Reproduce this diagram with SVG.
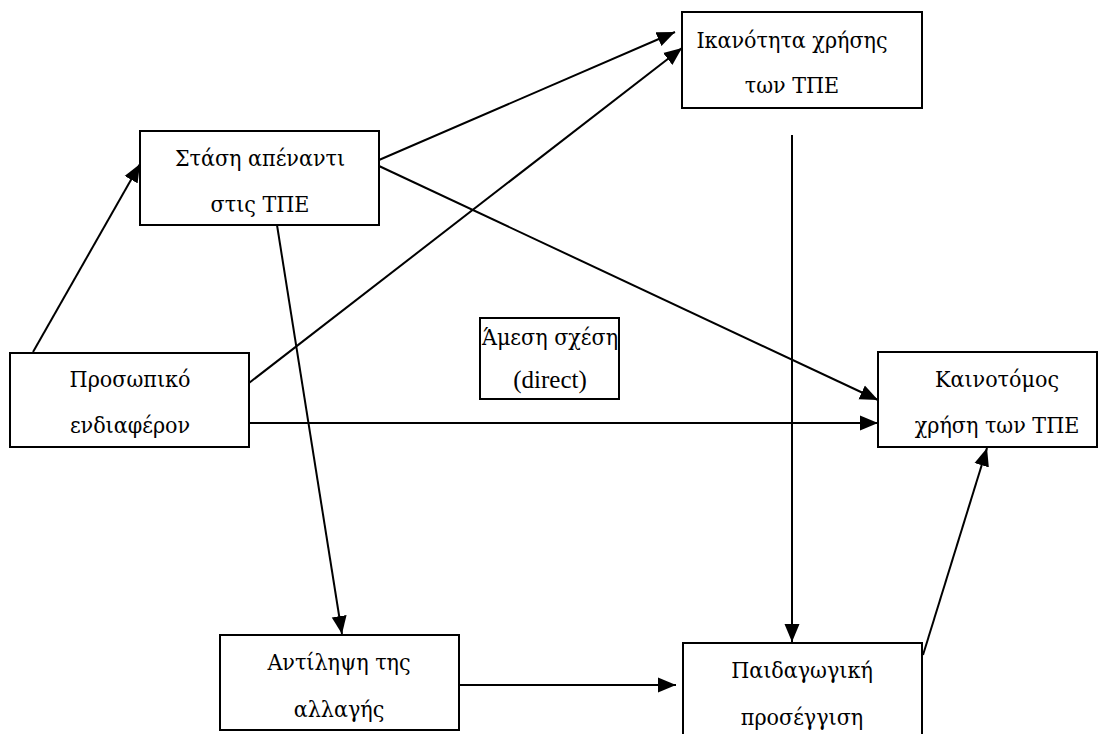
<svg xmlns="http://www.w3.org/2000/svg" width="1104" height="734" viewBox="0 0 1104 734">
<defs>
<style>
.box{fill:#fff;stroke:#000;stroke-width:2}
.t{font-family:'DejaVu Serif Condensed','DejaVu Serif',serif;font-stretch:condensed;font-size:23px;fill:#000;text-anchor:middle}
.lat{font-family:'Liberation Serif','Times New Roman',serif;font-stretch:normal;font-size:25px}
.c{stroke:#000;stroke-width:2;fill:none;marker-end:url(#ah)}
</style>
<marker id="ah" markerUnits="userSpaceOnUse" markerWidth="19" markerHeight="16" refX="18" refY="8" orient="auto">
<path d="M0,0.5 L18,8 L0,15.5 z" fill="#000"/>
</marker>
</defs>
<rect width="1104" height="734" fill="#fff"/>
<g id="connectors">
<line class="c" x1="33" y1="352" x2="140" y2="164"/>
<line class="c" x1="379" y1="160" x2="675" y2="32"/>
<line class="c" x1="249" y1="383" x2="682" y2="48"/>
<line class="c" x1="379" y1="166" x2="878" y2="400"/>
<line class="c" x1="249" y1="423" x2="878" y2="423"/>
<line class="c" x1="277" y1="225" x2="342" y2="634"/>
<line class="c" x1="792" y1="135" x2="792" y2="642"/>
<line class="c" x1="459" y1="685" x2="676" y2="685"/>
<line class="c" x1="923" y1="655" x2="987" y2="448"/>
</g>
<g id="stasi">
<rect class="box" x="140" y="131" width="239" height="94"/>
<text class="t" x="260" y="166">Στάση απέναντι</text>
<text class="t" x="260" y="212">στις ΤΠΕ</text>
</g>
<g id="ikanotita">
<rect class="box" x="682" y="12" width="240" height="96"/>
<text class="t" x="792" y="48">Ικανότητα χρήσης</text>
<text class="t" x="792" y="93">των ΤΠΕ</text>
</g>
<g id="prosopiko">
<rect class="box" x="10" y="353" width="239" height="94"/>
<text class="t" x="130" y="387">Προσωπικό</text>
<text class="t" x="130" y="433">ενδιαφέρον</text>
</g>
<g id="amesi">
<rect class="box" x="480" y="318" width="139" height="81"/>
<text class="t" x="550" y="345">Άμεση σχέση</text>
<text class="t lat" x="550" y="388">(direct)</text>
</g>
<g id="kainotomos">
<rect class="box" x="878" y="352" width="219" height="95"/>
<text class="t" x="997" y="387">Καινοτόμος</text>
<text class="t" x="997" y="433">χρήση των ΤΠΕ</text>
</g>
<g id="antilipsi">
<rect class="box" x="220" y="635" width="239" height="95"/>
<text class="t" x="339" y="670">Αντίληψη της</text>
<text class="t" x="339" y="717">αλλαγής</text>
</g>
<g id="paidagogiki">
<rect class="box" x="683" y="643" width="239" height="100"/>
<text class="t" x="802" y="678">Παιδαγωγική</text>
<text class="t" x="802" y="725">προσέγγιση</text>
</g>
</svg>
